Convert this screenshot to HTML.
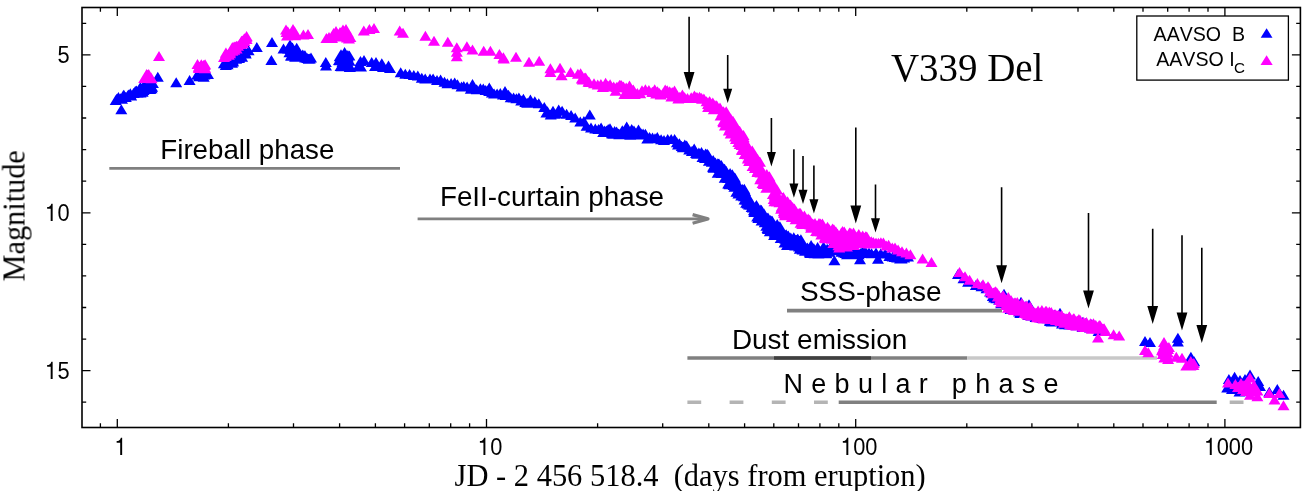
<!DOCTYPE html>
<html><head><meta charset="utf-8"><title>V339 Del</title>
<style>
html,body{margin:0;padding:0;background:#fff;}
body{width:1310px;height:491px;overflow:hidden;}
svg{display:block;}
text{font-kerning:none;}
.ga{opacity:0.999;}
.s{font-family:"Liberation Sans",sans-serif;fill:#000;}
.r{font-family:"Liberation Serif",serif;fill:#000;}
</style></head><body>
<svg width="1310" height="491" viewBox="0 0 1310 491">
<rect width="1310" height="491" fill="#fff"/>
<g fill="none">
<path d="M109.3 168.3H400" stroke="#808080" stroke-width="2.8"/>
<path d="M417.6 218.9H707" stroke="#808080" stroke-width="2.8"/><path d="M692.6 214.6L708 218.9L692.6 223.2" stroke="#808080" stroke-width="3.2" stroke-linejoin="round"/>
<path d="M787 310.6H1002" stroke="#808080" stroke-width="3.6"/>
<path d="M687.4 358H967.2" stroke="#808080" stroke-width="3.6"/>
<path d="M774 358H871" stroke="#404040" stroke-width="3.6"/>
<path d="M967.2 358H1157" stroke="#c8c8c8" stroke-width="3.6"/>
<path d="M687.4 402.3h13.8m28.4 0h13.8m28.4 0h13.8m28.4 0h13.8M1229.7 402.3h13.8" stroke="#b4b4b4" stroke-width="3.4"/>
<path d="M838.7 402.3H1216.7" stroke="#808080" stroke-width="3.6"/>
</g>
<path d="M115.7 95.0l6.0 10.0h-12.0zM116.7 93.7l6.0 10.0h-12.0zM117.6 93.6l6.0 10.0h-12.0zM118.4 92.0l6.0 10.0h-12.0zM120.5 93.2l6.0 10.0h-12.0zM122.0 93.7l6.0 10.0h-12.0zM123.0 90.7l6.0 10.0h-12.0zM123.2 90.2l6.0 10.0h-12.0zM123.9 89.8l6.0 10.0h-12.0zM125.8 92.0l6.0 10.0h-12.0zM127.6 90.5l6.0 10.0h-12.0zM128.4 89.4l6.0 10.0h-12.0zM131.2 90.6l6.0 10.0h-12.0zM130.3 88.3l6.0 10.0h-12.0zM130.4 89.8l6.0 10.0h-12.0zM133.5 88.0l6.0 10.0h-12.0zM135.2 86.1l6.0 10.0h-12.0zM135.7 87.5l6.0 10.0h-12.0zM136.4 85.4l6.0 10.0h-12.0zM138.0 85.7l6.0 10.0h-12.0zM137.5 87.7l6.0 10.0h-12.0zM138.8 84.6l6.0 10.0h-12.0zM136.8 87.4l6.0 10.0h-12.0zM139.1 84.6l6.0 10.0h-12.0zM140.4 82.1l6.0 10.0h-12.0zM139.6 83.7l6.0 10.0h-12.0zM140.5 87.5l6.0 10.0h-12.0zM141.8 86.5l6.0 10.0h-12.0zM142.4 86.1l6.0 10.0h-12.0zM142.6 86.7l6.0 10.0h-12.0zM143.5 85.0l6.0 10.0h-12.0zM144.4 79.6l6.0 10.0h-12.0zM145.9 80.6l6.0 10.0h-12.0zM146.4 81.7l6.0 10.0h-12.0zM147.7 82.1l6.0 10.0h-12.0zM147.5 78.8l6.0 10.0h-12.0zM150.2 79.2l6.0 10.0h-12.0zM150.1 84.0l6.0 10.0h-12.0zM151.5 83.3l6.0 10.0h-12.0zM151.0 77.2l6.0 10.0h-12.0zM152.9 78.1l6.0 10.0h-12.0zM152.1 81.8l6.0 10.0h-12.0zM121.3 104.2l6.0 10.0h-12.0zM157.8 71.7l6.0 10.0h-12.0zM176.2 77.3l6.0 10.0h-12.0zM189.6 75.1l6.0 10.0h-12.0zM204.2 69.5l6.0 10.0h-12.0zM199.1 71.2l6.0 10.0h-12.0zM197.8 69.2l6.0 10.0h-12.0zM203.7 71.7l6.0 10.0h-12.0zM204.4 69.5l6.0 10.0h-12.0zM208.0 69.1l6.0 10.0h-12.0zM197.2 69.4l6.0 10.0h-12.0zM202.3 68.6l6.0 10.0h-12.0zM199.1 69.8l6.0 10.0h-12.0zM223.9 58.3l6.0 10.0h-12.0zM227.6 59.3l6.0 10.0h-12.0zM227.2 56.0l6.0 10.0h-12.0zM225.8 60.1l6.0 10.0h-12.0zM230.1 54.3l6.0 10.0h-12.0zM229.5 57.8l6.0 10.0h-12.0zM231.6 53.8l6.0 10.0h-12.0zM232.0 57.8l6.0 10.0h-12.0zM232.9 56.6l6.0 10.0h-12.0zM232.9 55.4l6.0 10.0h-12.0zM235.3 53.4l6.0 10.0h-12.0zM236.1 53.8l6.0 10.0h-12.0zM235.4 53.4l6.0 10.0h-12.0zM235.4 53.2l6.0 10.0h-12.0zM239.0 53.0l6.0 10.0h-12.0zM238.9 51.9l6.0 10.0h-12.0zM240.1 48.6l6.0 10.0h-12.0zM238.9 50.8l6.0 10.0h-12.0zM240.1 51.0l6.0 10.0h-12.0zM242.1 51.7l6.0 10.0h-12.0zM241.0 47.8l6.0 10.0h-12.0zM242.8 46.3l6.0 10.0h-12.0zM245.3 47.2l6.0 10.0h-12.0zM245.1 47.9l6.0 10.0h-12.0zM245.7 48.5l6.0 10.0h-12.0zM248.6 45.2l6.0 10.0h-12.0zM256.8 42.1l6.0 10.0h-12.0zM272.0 37.0l6.0 10.0h-12.0zM271.4 54.9l6.0 10.0h-12.0zM293.8 45.5l6.0 10.0h-12.0zM289.4 47.3l6.0 10.0h-12.0zM296.4 50.8l6.0 10.0h-12.0zM295.1 51.8l6.0 10.0h-12.0zM290.8 44.0l6.0 10.0h-12.0zM292.5 45.1l6.0 10.0h-12.0zM290.1 46.5l6.0 10.0h-12.0zM294.3 47.3l6.0 10.0h-12.0zM291.2 50.7l6.0 10.0h-12.0zM297.8 46.9l6.0 10.0h-12.0zM288.7 42.6l6.0 10.0h-12.0zM296.7 42.7l6.0 10.0h-12.0zM295.1 48.0l6.0 10.0h-12.0zM291.1 50.2l6.0 10.0h-12.0zM288.2 43.7l6.0 10.0h-12.0zM292.5 42.6l6.0 10.0h-12.0zM298.5 48.8l6.0 10.0h-12.0zM299.5 50.0l6.0 10.0h-12.0zM301.5 51.7l6.0 10.0h-12.0zM303.1 49.9l6.0 10.0h-12.0zM302.7 49.4l6.0 10.0h-12.0zM305.0 50.3l6.0 10.0h-12.0zM305.2 52.4l6.0 10.0h-12.0zM307.3 53.0l6.0 10.0h-12.0zM308.7 53.8l6.0 10.0h-12.0zM309.8 53.4l6.0 10.0h-12.0zM290.0 39.5l6.0 10.0h-12.0zM304.5 50.5l6.0 10.0h-12.0zM311.0 52.5l6.0 10.0h-12.0zM325.8 57.1l6.0 10.0h-12.0zM283.5 43.5l6.0 10.0h-12.0zM326.0 60.5l6.0 10.0h-12.0zM361.0 61.5l6.0 10.0h-12.0zM375.0 61.0l6.0 10.0h-12.0zM383.0 62.0l6.0 10.0h-12.0zM390.0 63.0l6.0 10.0h-12.0zM339.6 55.2l6.0 10.0h-12.0zM345.5 61.2l6.0 10.0h-12.0zM342.5 56.7l6.0 10.0h-12.0zM348.6 59.7l6.0 10.0h-12.0zM349.3 55.4l6.0 10.0h-12.0zM345.8 52.0l6.0 10.0h-12.0zM346.7 60.0l6.0 10.0h-12.0zM345.7 58.7l6.0 10.0h-12.0zM340.6 61.0l6.0 10.0h-12.0zM349.8 62.0l6.0 10.0h-12.0zM344.4 59.6l6.0 10.0h-12.0zM341.8 61.2l6.0 10.0h-12.0zM348.3 53.9l6.0 10.0h-12.0zM339.0 55.1l6.0 10.0h-12.0zM344.6 59.3l6.0 10.0h-12.0zM343.8 49.7l6.0 10.0h-12.0zM347.7 50.2l6.0 10.0h-12.0zM347.6 51.6l6.0 10.0h-12.0zM342.0 59.6l6.0 10.0h-12.0zM339.7 51.3l6.0 10.0h-12.0zM344.2 58.7l6.0 10.0h-12.0zM348.1 58.3l6.0 10.0h-12.0zM349.3 55.7l6.0 10.0h-12.0zM349.4 50.5l6.0 10.0h-12.0zM344.6 46.9l6.0 10.0h-12.0zM341.0 49.3l6.0 10.0h-12.0zM348.0 50.3l6.0 10.0h-12.0zM360.5 56.0l6.0 10.0h-12.0zM358.0 61.5l6.0 10.0h-12.0zM364.0 55.0l6.0 10.0h-12.0zM371.7 57.1l6.0 10.0h-12.0zM381.8 58.3l6.0 10.0h-12.0zM388.5 60.5l6.0 10.0h-12.0zM376.0 57.0l6.0 10.0h-12.0zM472.5 79.1l6.0 10.0h-12.0zM489.3 82.5l6.0 10.0h-12.0zM505.0 85.9l6.0 10.0h-12.0zM400.7 67.3l6.0 10.0h-12.0zM405.3 68.7l6.0 10.0h-12.0zM409.6 69.1l6.0 10.0h-12.0zM413.8 70.1l6.0 10.0h-12.0zM417.8 70.6l6.0 10.0h-12.0zM421.8 72.7l6.0 10.0h-12.0zM425.2 73.5l6.0 10.0h-12.0zM430.0 73.5l6.0 10.0h-12.0zM433.1 73.4l6.0 10.0h-12.0zM437.0 75.1l6.0 10.0h-12.0zM440.6 74.5l6.0 10.0h-12.0zM444.5 76.7l6.0 10.0h-12.0zM447.4 78.3l6.0 10.0h-12.0zM451.1 78.1l6.0 10.0h-12.0zM454.7 77.6l6.0 10.0h-12.0zM457.5 79.3l6.0 10.0h-12.0zM461.5 81.6l6.0 10.0h-12.0zM463.8 80.9l6.0 10.0h-12.0zM467.1 81.6l6.0 10.0h-12.0zM470.8 83.7l6.0 10.0h-12.0zM473.5 82.5l6.0 10.0h-12.0zM476.7 84.2l6.0 10.0h-12.0zM480.4 83.3l6.0 10.0h-12.0zM483.3 83.6l6.0 10.0h-12.0zM485.7 84.9l6.0 10.0h-12.0zM489.2 85.9l6.0 10.0h-12.0zM491.9 87.6l6.0 10.0h-12.0zM494.1 88.5l6.0 10.0h-12.0zM497.1 88.4l6.0 10.0h-12.0zM500.3 88.0l6.0 10.0h-12.0zM503.0 89.5l6.0 10.0h-12.0zM505.9 90.1l6.0 10.0h-12.0zM508.5 89.7l6.0 10.0h-12.0zM510.7 92.2l6.0 10.0h-12.0zM513.6 92.4l6.0 10.0h-12.0zM516.4 93.3l6.0 10.0h-12.0zM518.9 92.4l6.0 10.0h-12.0zM521.2 95.4l6.0 10.0h-12.0zM523.4 93.8l6.0 10.0h-12.0zM525.3 97.0l6.0 10.0h-12.0zM527.2 97.8l6.0 10.0h-12.0zM530.4 94.6l6.0 10.0h-12.0zM532.2 97.8l6.0 10.0h-12.0zM534.8 96.2l6.0 10.0h-12.0zM538.8 98.2l6.0 10.0h-12.0zM544.3 101.9l6.0 10.0h-12.0zM546.4 107.4l6.0 10.0h-12.0zM547.5 106.2l6.0 10.0h-12.0zM550.7 109.6l6.0 10.0h-12.0zM553.0 105.8l6.0 10.0h-12.0zM554.5 108.8l6.0 10.0h-12.0zM556.5 108.3l6.0 10.0h-12.0zM558.7 104.6l6.0 10.0h-12.0zM562.1 105.7l6.0 10.0h-12.0zM566.6 108.7l6.0 10.0h-12.0zM571.1 110.1l6.0 10.0h-12.0zM575.2 112.4l6.0 10.0h-12.0zM580.3 116.5l6.0 10.0h-12.0zM583.9 116.0l6.0 10.0h-12.0zM586.6 120.8l6.0 10.0h-12.0zM591.0 122.6l6.0 10.0h-12.0zM595.3 123.4l6.0 10.0h-12.0zM598.5 123.9l6.0 10.0h-12.0zM601.1 122.6l6.0 10.0h-12.0zM603.2 126.9l6.0 10.0h-12.0zM604.7 125.4l6.0 10.0h-12.0zM606.7 125.4l6.0 10.0h-12.0zM608.2 124.1l6.0 10.0h-12.0zM610.0 123.2l6.0 10.0h-12.0zM611.9 128.2l6.0 10.0h-12.0zM613.2 128.7l6.0 10.0h-12.0zM614.6 125.9l6.0 10.0h-12.0zM616.6 126.5l6.0 10.0h-12.0zM618.5 128.5l6.0 10.0h-12.0zM619.3 129.2l6.0 10.0h-12.0zM620.7 128.3l6.0 10.0h-12.0zM622.3 125.2l6.0 10.0h-12.0zM623.4 129.1l6.0 10.0h-12.0zM624.7 128.1l6.0 10.0h-12.0zM625.8 124.7l6.0 10.0h-12.0zM626.7 121.5l6.0 10.0h-12.0zM627.3 125.1l6.0 10.0h-12.0zM628.0 123.9l6.0 10.0h-12.0zM629.6 126.4l6.0 10.0h-12.0zM630.2 129.8l6.0 10.0h-12.0zM631.7 124.1l6.0 10.0h-12.0zM632.7 126.6l6.0 10.0h-12.0zM634.0 125.5l6.0 10.0h-12.0zM635.5 127.8l6.0 10.0h-12.0zM636.7 128.9l6.0 10.0h-12.0zM638.5 124.6l6.0 10.0h-12.0zM639.6 129.5l6.0 10.0h-12.0zM641.3 128.6l6.0 10.0h-12.0zM643.1 128.5l6.0 10.0h-12.0zM645.4 128.7l6.0 10.0h-12.0zM647.3 133.4l6.0 10.0h-12.0zM649.6 131.9l6.0 10.0h-12.0zM652.5 132.6l6.0 10.0h-12.0zM655.0 133.2l6.0 10.0h-12.0zM657.3 131.9l6.0 10.0h-12.0zM661.1 134.3l6.0 10.0h-12.0zM664.0 134.9l6.0 10.0h-12.0zM667.7 133.9l6.0 10.0h-12.0zM671.2 134.1l6.0 10.0h-12.0zM674.6 134.0l6.0 10.0h-12.0zM676.9 137.2l6.0 10.0h-12.0zM678.0 139.6l6.0 10.0h-12.0zM679.4 138.3l6.0 10.0h-12.0zM681.7 140.9l6.0 10.0h-12.0zM682.8 142.3l6.0 10.0h-12.0zM684.8 139.4l6.0 10.0h-12.0zM686.7 140.6l6.0 10.0h-12.0zM689.2 144.6l6.0 10.0h-12.0zM589.8 109.5l6.0 10.0h-12.0zM691.9 146.1l6.0 10.0h-12.0zM694.2 143.6l6.0 10.0h-12.0zM696.0 147.9l6.0 10.0h-12.0zM697.1 148.7l6.0 10.0h-12.0zM698.9 147.4l6.0 10.0h-12.0zM701.5 147.1l6.0 10.0h-12.0zM702.5 151.9l6.0 10.0h-12.0zM703.7 149.9l6.0 10.0h-12.0zM705.0 153.0l6.0 10.0h-12.0zM705.6 148.5l6.0 10.0h-12.0zM706.6 151.7l6.0 10.0h-12.0zM707.2 148.8l6.0 10.0h-12.0zM708.5 150.2l6.0 10.0h-12.0zM708.9 155.7l6.0 10.0h-12.0zM710.0 152.8l6.0 10.0h-12.0zM711.1 155.1l6.0 10.0h-12.0zM711.8 156.7l6.0 10.0h-12.0zM713.0 161.8l6.0 10.0h-12.0zM713.2 155.1l6.0 10.0h-12.0zM713.6 162.7l6.0 10.0h-12.0zM714.8 160.4l6.0 10.0h-12.0zM715.4 157.5l6.0 10.0h-12.0zM716.2 161.1l6.0 10.0h-12.0zM717.1 162.8l6.0 10.0h-12.0zM717.8 158.3l6.0 10.0h-12.0zM717.7 167.7l6.0 10.0h-12.0zM719.4 167.5l6.0 10.0h-12.0zM719.0 158.4l6.0 10.0h-12.0zM719.8 163.1l6.0 10.0h-12.0zM721.1 160.1l6.0 10.0h-12.0zM721.5 160.2l6.0 10.0h-12.0zM721.6 168.0l6.0 10.0h-12.0zM722.6 167.9l6.0 10.0h-12.0zM723.4 167.0l6.0 10.0h-12.0zM723.7 165.8l6.0 10.0h-12.0zM724.7 172.7l6.0 10.0h-12.0zM724.6 163.7l6.0 10.0h-12.0zM725.8 170.9l6.0 10.0h-12.0zM726.3 165.9l6.0 10.0h-12.0zM726.9 167.4l6.0 10.0h-12.0zM727.8 169.4l6.0 10.0h-12.0zM728.2 178.6l6.0 10.0h-12.0zM728.3 172.9l6.0 10.0h-12.0zM729.2 178.7l6.0 10.0h-12.0zM729.4 171.3l6.0 10.0h-12.0zM729.6 179.2l6.0 10.0h-12.0zM730.1 168.0l6.0 10.0h-12.0zM731.1 174.4l6.0 10.0h-12.0zM731.7 172.1l6.0 10.0h-12.0zM732.3 169.2l6.0 10.0h-12.0zM732.2 178.6l6.0 10.0h-12.0zM732.6 173.6l6.0 10.0h-12.0zM733.7 180.1l6.0 10.0h-12.0zM733.8 172.0l6.0 10.0h-12.0zM734.4 181.7l6.0 10.0h-12.0zM734.9 172.4l6.0 10.0h-12.0zM735.7 180.2l6.0 10.0h-12.0zM736.4 186.8l6.0 10.0h-12.0zM736.9 179.3l6.0 10.0h-12.0zM737.3 177.8l6.0 10.0h-12.0zM737.3 179.9l6.0 10.0h-12.0zM738.4 188.4l6.0 10.0h-12.0zM738.2 180.7l6.0 10.0h-12.0zM738.9 181.3l6.0 10.0h-12.0zM739.4 182.4l6.0 10.0h-12.0zM739.7 185.7l6.0 10.0h-12.0zM740.8 186.0l6.0 10.0h-12.0zM741.3 186.9l6.0 10.0h-12.0zM741.2 190.4l6.0 10.0h-12.0zM742.4 184.1l6.0 10.0h-12.0zM742.0 188.2l6.0 10.0h-12.0zM743.0 189.5l6.0 10.0h-12.0zM744.0 191.3l6.0 10.0h-12.0zM744.3 183.8l6.0 10.0h-12.0zM744.5 194.5l6.0 10.0h-12.0zM745.1 186.1l6.0 10.0h-12.0zM746.2 197.8l6.0 10.0h-12.0zM746.1 194.8l6.0 10.0h-12.0zM746.6 196.9l6.0 10.0h-12.0zM747.6 191.1l6.0 10.0h-12.0zM747.7 198.4l6.0 10.0h-12.0zM749.0 199.6l6.0 10.0h-12.0zM749.4 194.9l6.0 10.0h-12.0zM750.5 199.7l6.0 10.0h-12.0zM750.5 198.7l6.0 10.0h-12.0zM751.7 201.9l6.0 10.0h-12.0zM752.4 198.9l6.0 10.0h-12.0zM752.8 202.5l6.0 10.0h-12.0zM753.9 205.3l6.0 10.0h-12.0zM754.3 206.9l6.0 10.0h-12.0zM755.0 204.3l6.0 10.0h-12.0zM755.0 205.7l6.0 10.0h-12.0zM756.3 203.2l6.0 10.0h-12.0zM756.4 200.1l6.0 10.0h-12.0zM757.2 211.5l6.0 10.0h-12.0zM757.4 201.4l6.0 10.0h-12.0zM757.7 205.2l6.0 10.0h-12.0zM758.3 213.0l6.0 10.0h-12.0zM759.1 205.2l6.0 10.0h-12.0zM759.6 210.3l6.0 10.0h-12.0zM760.8 204.4l6.0 10.0h-12.0zM760.6 208.8l6.0 10.0h-12.0zM761.6 215.5l6.0 10.0h-12.0zM761.5 204.9l6.0 10.0h-12.0zM762.2 206.9l6.0 10.0h-12.0zM762.7 214.5l6.0 10.0h-12.0zM764.1 208.5l6.0 10.0h-12.0zM764.2 209.8l6.0 10.0h-12.0zM764.7 217.2l6.0 10.0h-12.0zM765.3 214.7l6.0 10.0h-12.0zM766.3 214.2l6.0 10.0h-12.0zM766.3 220.8l6.0 10.0h-12.0zM767.4 213.2l6.0 10.0h-12.0zM767.5 223.0l6.0 10.0h-12.0zM768.0 212.4l6.0 10.0h-12.0zM768.0 223.9l6.0 10.0h-12.0zM769.3 215.9l6.0 10.0h-12.0zM769.5 218.4l6.0 10.0h-12.0zM769.8 226.3l6.0 10.0h-12.0zM770.7 215.1l6.0 10.0h-12.0zM770.5 219.3l6.0 10.0h-12.0zM771.4 224.9l6.0 10.0h-12.0zM772.2 222.4l6.0 10.0h-12.0zM772.2 215.7l6.0 10.0h-12.0zM772.8 217.7l6.0 10.0h-12.0zM773.9 222.2l6.0 10.0h-12.0zM774.1 230.0l6.0 10.0h-12.0zM774.3 223.3l6.0 10.0h-12.0zM774.7 227.4l6.0 10.0h-12.0zM775.0 228.5l6.0 10.0h-12.0zM776.3 228.9l6.0 10.0h-12.0zM776.1 221.0l6.0 10.0h-12.0zM777.2 218.9l6.0 10.0h-12.0zM777.5 224.9l6.0 10.0h-12.0zM778.5 227.0l6.0 10.0h-12.0zM778.9 223.3l6.0 10.0h-12.0zM779.3 225.4l6.0 10.0h-12.0zM779.9 221.2l6.0 10.0h-12.0zM780.3 223.3l6.0 10.0h-12.0zM780.5 228.3l6.0 10.0h-12.0zM780.7 233.0l6.0 10.0h-12.0zM781.3 226.1l6.0 10.0h-12.0zM781.6 226.5l6.0 10.0h-12.0zM783.0 233.0l6.0 10.0h-12.0zM783.4 233.0l6.0 10.0h-12.0zM783.6 229.5l6.0 10.0h-12.0zM784.5 237.5l6.0 10.0h-12.0zM785.3 233.8l6.0 10.0h-12.0zM785.0 230.5l6.0 10.0h-12.0zM786.2 229.2l6.0 10.0h-12.0zM787.1 232.9l6.0 10.0h-12.0zM787.0 240.1l6.0 10.0h-12.0zM788.3 230.6l6.0 10.0h-12.0zM788.6 232.1l6.0 10.0h-12.0zM789.4 236.1l6.0 10.0h-12.0zM789.8 233.8l6.0 10.0h-12.0zM790.4 238.1l6.0 10.0h-12.0zM790.8 232.5l6.0 10.0h-12.0zM791.7 234.3l6.0 10.0h-12.0zM792.9 237.6l6.0 10.0h-12.0zM793.2 235.0l6.0 10.0h-12.0zM793.8 232.2l6.0 10.0h-12.0zM793.6 232.4l6.0 10.0h-12.0zM795.2 240.5l6.0 10.0h-12.0zM795.2 236.9l6.0 10.0h-12.0zM796.3 239.5l6.0 10.0h-12.0zM796.1 235.1l6.0 10.0h-12.0zM797.2 234.2l6.0 10.0h-12.0zM797.9 233.8l6.0 10.0h-12.0zM798.9 238.4l6.0 10.0h-12.0zM799.0 241.4l6.0 10.0h-12.0zM799.8 243.8l6.0 10.0h-12.0zM800.4 238.0l6.0 10.0h-12.0zM800.9 234.2l6.0 10.0h-12.0zM801.4 243.1l6.0 10.0h-12.0zM802.5 244.5l6.0 10.0h-12.0zM803.2 242.6l6.0 10.0h-12.0zM803.0 239.3l6.0 10.0h-12.0zM803.8 243.6l6.0 10.0h-12.0zM804.1 240.3l6.0 10.0h-12.0zM805.0 245.8l6.0 10.0h-12.0zM806.3 243.7l6.0 10.0h-12.0zM806.2 245.7l6.0 10.0h-12.0zM807.4 243.1l6.0 10.0h-12.0zM807.4 242.6l6.0 10.0h-12.0zM808.1 245.3l6.0 10.0h-12.0zM809.5 243.1l6.0 10.0h-12.0zM809.7 246.8l6.0 10.0h-12.0zM810.2 248.0l6.0 10.0h-12.0zM811.1 240.1l6.0 10.0h-12.0zM811.6 240.9l6.0 10.0h-12.0zM812.6 245.5l6.0 10.0h-12.0zM813.3 247.9l6.0 10.0h-12.0zM813.9 243.3l6.0 10.0h-12.0zM814.6 248.3l6.0 10.0h-12.0zM815.1 247.7l6.0 10.0h-12.0zM816.5 244.5l6.0 10.0h-12.0zM817.6 241.9l6.0 10.0h-12.0zM818.4 248.5l6.0 10.0h-12.0zM819.3 245.1l6.0 10.0h-12.0zM819.6 247.1l6.0 10.0h-12.0zM820.8 247.7l6.0 10.0h-12.0zM821.7 245.1l6.0 10.0h-12.0zM823.3 242.1l6.0 10.0h-12.0zM823.5 241.4l6.0 10.0h-12.0zM824.0 242.3l6.0 10.0h-12.0zM826.5 248.2l6.0 10.0h-12.0zM827.2 243.7l6.0 10.0h-12.0zM828.2 246.8l6.0 10.0h-12.0zM828.9 245.9l6.0 10.0h-12.0zM830.3 242.2l6.0 10.0h-12.0zM831.2 245.3l6.0 10.0h-12.0zM832.1 244.9l6.0 10.0h-12.0zM834.1 243.9l6.0 10.0h-12.0zM835.5 244.6l6.0 10.0h-12.0zM837.1 245.1l6.0 10.0h-12.0zM838.1 243.5l6.0 10.0h-12.0zM839.7 244.3l6.0 10.0h-12.0zM841.5 246.8l6.0 10.0h-12.0zM842.5 245.9l6.0 10.0h-12.0zM844.1 247.5l6.0 10.0h-12.0zM845.8 247.9l6.0 10.0h-12.0zM847.0 249.2l6.0 10.0h-12.0zM848.8 248.6l6.0 10.0h-12.0zM849.9 246.6l6.0 10.0h-12.0zM851.6 249.0l6.0 10.0h-12.0zM853.5 247.3l6.0 10.0h-12.0zM854.9 249.2l6.0 10.0h-12.0zM856.3 245.3l6.0 10.0h-12.0zM858.7 249.2l6.0 10.0h-12.0zM860.2 247.9l6.0 10.0h-12.0zM862.3 246.8l6.0 10.0h-12.0zM864.1 246.1l6.0 10.0h-12.0zM866.1 247.5l6.0 10.0h-12.0zM869.0 247.4l6.0 10.0h-12.0zM871.6 248.3l6.0 10.0h-12.0zM876.0 247.5l6.0 10.0h-12.0zM880.8 248.2l6.0 10.0h-12.0zM885.2 248.4l6.0 10.0h-12.0zM889.4 251.0l6.0 10.0h-12.0zM892.7 251.6l6.0 10.0h-12.0zM894.9 252.0l6.0 10.0h-12.0zM897.2 252.4l6.0 10.0h-12.0zM900.1 253.5l6.0 10.0h-12.0zM901.6 253.4l6.0 10.0h-12.0zM904.1 252.6l6.0 10.0h-12.0zM908.0 251.4l6.0 10.0h-12.0zM834.4 255.3l6.0 10.0h-12.0zM860.0 254.3l6.0 10.0h-12.0zM878.0 253.8l6.0 10.0h-12.0zM958.0 268.9l6.0 10.0h-12.0zM963.5 273.3l6.0 10.0h-12.0zM968.1 276.8l6.0 10.0h-12.0zM975.9 280.1l6.0 10.0h-12.0zM981.5 281.3l6.0 10.0h-12.0zM986.5 283.3l6.0 10.0h-12.0zM990.1 286.4l6.0 10.0h-12.0zM991.5 287.6l6.0 10.0h-12.0zM992.8 291.1l6.0 10.0h-12.0zM994.2 292.4l6.0 10.0h-12.0zM996.4 293.3l6.0 10.0h-12.0zM996.7 291.5l6.0 10.0h-12.0zM999.0 290.9l6.0 10.0h-12.0zM999.2 294.8l6.0 10.0h-12.0zM1000.2 294.5l6.0 10.0h-12.0zM1001.2 298.2l6.0 10.0h-12.0zM1002.3 291.6l6.0 10.0h-12.0zM1003.7 294.3l6.0 10.0h-12.0zM1004.6 296.2l6.0 10.0h-12.0zM1005.4 296.6l6.0 10.0h-12.0zM1005.9 292.3l6.0 10.0h-12.0zM1007.0 295.3l6.0 10.0h-12.0zM1008.1 299.3l6.0 10.0h-12.0zM1008.5 294.2l6.0 10.0h-12.0zM1009.5 298.6l6.0 10.0h-12.0zM1010.6 304.0l6.0 10.0h-12.0zM1010.8 298.9l6.0 10.0h-12.0zM1011.6 303.1l6.0 10.0h-12.0zM1012.7 304.0l6.0 10.0h-12.0zM1013.8 298.2l6.0 10.0h-12.0zM1014.9 301.3l6.0 10.0h-12.0zM1014.9 302.0l6.0 10.0h-12.0zM1016.4 301.7l6.0 10.0h-12.0zM1017.0 300.0l6.0 10.0h-12.0zM1017.8 302.4l6.0 10.0h-12.0zM1018.3 299.6l6.0 10.0h-12.0zM1019.2 306.4l6.0 10.0h-12.0zM1020.3 308.0l6.0 10.0h-12.0zM1021.4 305.4l6.0 10.0h-12.0zM1022.3 306.0l6.0 10.0h-12.0zM1022.8 307.1l6.0 10.0h-12.0zM1023.2 307.5l6.0 10.0h-12.0zM1024.3 302.5l6.0 10.0h-12.0zM1025.9 300.9l6.0 10.0h-12.0zM1026.0 304.0l6.0 10.0h-12.0zM1027.3 306.8l6.0 10.0h-12.0zM1028.4 310.1l6.0 10.0h-12.0zM1029.1 302.7l6.0 10.0h-12.0zM1030.2 303.5l6.0 10.0h-12.0zM1031.5 310.5l6.0 10.0h-12.0zM1031.8 305.0l6.0 10.0h-12.0zM1033.2 310.2l6.0 10.0h-12.0zM1034.5 309.4l6.0 10.0h-12.0zM1034.6 310.6l6.0 10.0h-12.0zM1035.6 312.0l6.0 10.0h-12.0zM1037.3 311.7l6.0 10.0h-12.0zM1038.4 310.3l6.0 10.0h-12.0zM1039.4 311.0l6.0 10.0h-12.0zM1040.0 309.2l6.0 10.0h-12.0zM1041.4 306.7l6.0 10.0h-12.0zM1042.2 313.0l6.0 10.0h-12.0zM1043.2 312.1l6.0 10.0h-12.0zM1044.8 312.7l6.0 10.0h-12.0zM1045.5 309.9l6.0 10.0h-12.0zM1046.3 309.0l6.0 10.0h-12.0zM1047.6 313.3l6.0 10.0h-12.0zM1048.9 310.6l6.0 10.0h-12.0zM1049.9 315.5l6.0 10.0h-12.0zM1050.3 316.1l6.0 10.0h-12.0zM1051.6 316.4l6.0 10.0h-12.0zM1052.8 311.5l6.0 10.0h-12.0zM1053.3 313.2l6.0 10.0h-12.0zM1054.5 309.5l6.0 10.0h-12.0zM1055.9 313.8l6.0 10.0h-12.0zM1057.0 315.8l6.0 10.0h-12.0zM1057.7 311.5l6.0 10.0h-12.0zM1059.1 312.1l6.0 10.0h-12.0zM1059.8 310.9l6.0 10.0h-12.0zM1060.6 313.5l6.0 10.0h-12.0zM1062.0 318.6l6.0 10.0h-12.0zM1063.1 314.5l6.0 10.0h-12.0zM1063.9 313.3l6.0 10.0h-12.0zM1065.0 319.3l6.0 10.0h-12.0zM1065.6 315.3l6.0 10.0h-12.0zM1067.2 318.1l6.0 10.0h-12.0zM1068.1 317.4l6.0 10.0h-12.0zM1069.4 319.6l6.0 10.0h-12.0zM1070.3 317.2l6.0 10.0h-12.0zM1072.0 317.3l6.0 10.0h-12.0zM1072.2 319.3l6.0 10.0h-12.0zM1073.1 315.0l6.0 10.0h-12.0zM1075.1 316.3l6.0 10.0h-12.0zM1076.2 319.8l6.0 10.0h-12.0zM1076.8 320.3l6.0 10.0h-12.0zM1078.6 320.1l6.0 10.0h-12.0zM1079.5 318.5l6.0 10.0h-12.0zM1080.1 319.0l6.0 10.0h-12.0zM1082.5 322.1l6.0 10.0h-12.0zM1082.6 316.9l6.0 10.0h-12.0zM1084.3 321.4l6.0 10.0h-12.0zM1085.4 318.0l6.0 10.0h-12.0zM1086.9 321.2l6.0 10.0h-12.0zM1088.7 320.5l6.0 10.0h-12.0zM1090.1 322.6l6.0 10.0h-12.0zM1091.1 319.1l6.0 10.0h-12.0zM1092.7 320.0l6.0 10.0h-12.0zM1093.6 322.4l6.0 10.0h-12.0zM1095.0 320.6l6.0 10.0h-12.0zM1097.4 323.2l6.0 10.0h-12.0zM1098.6 326.0l6.0 10.0h-12.0zM1100.9 324.1l6.0 10.0h-12.0zM1102.6 324.0l6.0 10.0h-12.0zM1004.0 288.8l6.0 10.0h-12.0zM1021.0 296.8l6.0 10.0h-12.0zM1029.0 299.3l6.0 10.0h-12.0zM1060.0 307.8l6.0 10.0h-12.0zM1145.0 336.0l6.0 10.0h-12.0zM1150.0 337.1l6.0 10.0h-12.0zM1177.9 332.7l6.0 10.0h-12.0zM1177.9 336.5l6.0 10.0h-12.0zM1190.9 351.7l6.0 10.0h-12.0zM1194.2 356.2l6.0 10.0h-12.0zM1190.6 354.3l6.0 10.0h-12.0zM1228.9 374.1l6.0 10.0h-12.0zM1234.6 371.8l6.0 10.0h-12.0zM1240.0 375.1l6.0 10.0h-12.0zM1250.0 369.4l6.0 10.0h-12.0zM1258.2 375.9l6.0 10.0h-12.0zM1227.2 382.4l6.0 10.0h-12.0zM1232.0 384.1l6.0 10.0h-12.0zM1239.5 386.5l6.0 10.0h-12.0zM1260.0 381.1l6.0 10.0h-12.0zM1245.0 374.1l6.0 10.0h-12.0zM1236.0 380.1l6.0 10.0h-12.0zM1269.3 386.8l6.0 10.0h-12.0zM1277.3 384.1l6.0 10.0h-12.0zM1283.5 389.7l6.0 10.0h-12.0z" fill="#0000ff"/>
<path d="M146.0 70.2l6.0 10.0h-12.0zM146.6 69.1l6.0 10.0h-12.0zM151.2 72.5l6.0 10.0h-12.0zM147.2 70.4l6.0 10.0h-12.0zM148.7 69.0l6.0 10.0h-12.0zM144.2 72.9l6.0 10.0h-12.0zM146.5 71.1l6.0 10.0h-12.0zM151.5 73.2l6.0 10.0h-12.0zM147.8 69.8l6.0 10.0h-12.0zM159.0 50.9l6.0 10.0h-12.0zM199.7 62.9l6.0 10.0h-12.0zM205.1 59.3l6.0 10.0h-12.0zM204.5 60.1l6.0 10.0h-12.0zM201.3 59.2l6.0 10.0h-12.0zM204.9 63.3l6.0 10.0h-12.0zM198.8 61.5l6.0 10.0h-12.0zM198.7 62.7l6.0 10.0h-12.0zM197.5 58.9l6.0 10.0h-12.0zM203.5 59.9l6.0 10.0h-12.0zM205.1 62.7l6.0 10.0h-12.0zM224.0 52.0l6.0 10.0h-12.0zM225.9 47.5l6.0 10.0h-12.0zM225.7 51.1l6.0 10.0h-12.0zM226.1 47.7l6.0 10.0h-12.0zM229.1 47.5l6.0 10.0h-12.0zM230.1 48.2l6.0 10.0h-12.0zM228.8 49.8l6.0 10.0h-12.0zM229.9 47.1l6.0 10.0h-12.0zM232.4 45.7l6.0 10.0h-12.0zM232.1 42.4l6.0 10.0h-12.0zM232.3 42.9l6.0 10.0h-12.0zM232.6 42.3l6.0 10.0h-12.0zM233.9 41.7l6.0 10.0h-12.0zM234.3 44.8l6.0 10.0h-12.0zM235.0 41.3l6.0 10.0h-12.0zM236.6 43.6l6.0 10.0h-12.0zM236.6 40.8l6.0 10.0h-12.0zM238.0 40.7l6.0 10.0h-12.0zM239.4 39.0l6.0 10.0h-12.0zM240.7 38.3l6.0 10.0h-12.0zM240.0 39.1l6.0 10.0h-12.0zM241.5 35.7l6.0 10.0h-12.0zM243.0 38.2l6.0 10.0h-12.0zM242.4 35.5l6.0 10.0h-12.0zM243.8 35.2l6.0 10.0h-12.0zM244.4 36.0l6.0 10.0h-12.0zM246.5 31.7l6.0 10.0h-12.0zM244.3 33.2l6.0 10.0h-12.0zM246.6 31.0l6.0 10.0h-12.0zM246.6 33.9l6.0 10.0h-12.0zM292.3 28.6l6.0 10.0h-12.0zM294.7 26.5l6.0 10.0h-12.0zM287.6 27.0l6.0 10.0h-12.0zM286.5 27.0l6.0 10.0h-12.0zM292.8 28.5l6.0 10.0h-12.0zM288.9 29.0l6.0 10.0h-12.0zM287.0 30.6l6.0 10.0h-12.0zM287.9 26.6l6.0 10.0h-12.0zM287.8 29.7l6.0 10.0h-12.0zM295.1 30.3l6.0 10.0h-12.0zM286.0 24.5l6.0 10.0h-12.0zM293.0 24.0l6.0 10.0h-12.0zM308.0 29.0l6.0 10.0h-12.0zM303.4 29.5l6.0 10.0h-12.0zM326.4 33.0l6.0 10.0h-12.0zM333.6 28.0l6.0 10.0h-12.0zM337.0 30.5l6.0 10.0h-12.0zM340.0 27.0l6.0 10.0h-12.0zM343.0 24.5l6.0 10.0h-12.0zM346.0 24.0l6.0 10.0h-12.0zM348.0 27.5l6.0 10.0h-12.0zM350.4 32.0l6.0 10.0h-12.0zM344.0 30.5l6.0 10.0h-12.0zM340.0 31.5l6.0 10.0h-12.0zM336.0 26.0l6.0 10.0h-12.0zM347.0 32.5l6.0 10.0h-12.0zM329.0 32.0l6.0 10.0h-12.0zM332.0 33.0l6.0 10.0h-12.0zM349.0 33.5l6.0 10.0h-12.0zM363.8 25.6l6.0 10.0h-12.0zM369.4 24.0l6.0 10.0h-12.0zM374.0 22.9l6.0 10.0h-12.0zM399.7 25.6l6.0 10.0h-12.0zM403.0 27.8l6.0 10.0h-12.0zM425.4 30.7l6.0 10.0h-12.0zM434.0 35.7l6.0 10.0h-12.0zM447.8 36.8l6.0 10.0h-12.0zM456.8 42.3l6.0 10.0h-12.0zM456.8 46.8l6.0 10.0h-12.0zM456.8 51.3l6.0 10.0h-12.0zM466.9 41.3l6.0 10.0h-12.0zM472.5 44.6l6.0 10.0h-12.0zM483.7 45.7l6.0 10.0h-12.0zM490.4 45.7l6.0 10.0h-12.0zM499.4 49.1l6.0 10.0h-12.0zM503.8 53.6l6.0 10.0h-12.0zM503.4 52.3l6.0 10.0h-12.0zM516.0 51.8l6.0 10.0h-12.0zM529.0 56.8l6.0 10.0h-12.0zM539.2 55.7l6.0 10.0h-12.0zM550.4 63.3l6.0 10.0h-12.0zM550.4 66.9l6.0 10.0h-12.0zM560.0 62.8l6.0 10.0h-12.0zM561.6 70.3l6.0 10.0h-12.0zM570.6 66.9l6.0 10.0h-12.0zM594.0 78.3l6.0 10.0h-12.0zM577.9 68.8l6.0 10.0h-12.0zM580.6 68.3l6.0 10.0h-12.0zM581.8 73.5l6.0 10.0h-12.0zM582.1 73.0l6.0 10.0h-12.0zM582.9 74.4l6.0 10.0h-12.0zM584.6 72.7l6.0 10.0h-12.0zM585.7 72.6l6.0 10.0h-12.0zM589.2 77.0l6.0 10.0h-12.0zM588.5 76.4l6.0 10.0h-12.0zM597.7 79.6l6.0 10.0h-12.0zM600.9 79.1l6.0 10.0h-12.0zM602.8 82.1l6.0 10.0h-12.0zM605.6 77.7l6.0 10.0h-12.0zM607.9 80.5l6.0 10.0h-12.0zM610.1 79.2l6.0 10.0h-12.0zM613.7 81.4l6.0 10.0h-12.0zM615.6 85.8l6.0 10.0h-12.0zM616.5 82.1l6.0 10.0h-12.0zM617.8 82.0l6.0 10.0h-12.0zM619.3 80.3l6.0 10.0h-12.0zM619.8 80.0l6.0 10.0h-12.0zM621.0 79.9l6.0 10.0h-12.0zM621.7 80.5l6.0 10.0h-12.0zM623.5 81.5l6.0 10.0h-12.0zM624.4 88.9l6.0 10.0h-12.0zM625.7 87.6l6.0 10.0h-12.0zM626.2 82.5l6.0 10.0h-12.0zM627.1 85.9l6.0 10.0h-12.0zM628.9 81.4l6.0 10.0h-12.0zM629.5 80.5l6.0 10.0h-12.0zM630.8 83.4l6.0 10.0h-12.0zM632.4 86.9l6.0 10.0h-12.0zM633.3 84.6l6.0 10.0h-12.0zM634.7 89.1l6.0 10.0h-12.0zM637.4 87.9l6.0 10.0h-12.0zM640.2 88.2l6.0 10.0h-12.0zM642.0 85.3l6.0 10.0h-12.0zM645.4 84.3l6.0 10.0h-12.0zM648.9 85.0l6.0 10.0h-12.0zM652.3 86.7l6.0 10.0h-12.0zM653.1 87.0l6.0 10.0h-12.0zM654.7 84.2l6.0 10.0h-12.0zM656.2 88.5l6.0 10.0h-12.0zM657.5 86.3l6.0 10.0h-12.0zM659.4 88.1l6.0 10.0h-12.0zM660.6 89.4l6.0 10.0h-12.0zM662.8 88.2l6.0 10.0h-12.0zM665.2 84.5l6.0 10.0h-12.0zM667.2 85.3l6.0 10.0h-12.0zM669.7 86.3l6.0 10.0h-12.0zM671.4 91.6l6.0 10.0h-12.0zM672.2 86.9l6.0 10.0h-12.0zM673.8 86.7l6.0 10.0h-12.0zM674.5 85.4l6.0 10.0h-12.0zM676.6 90.3l6.0 10.0h-12.0zM678.3 93.5l6.0 10.0h-12.0zM679.8 91.7l6.0 10.0h-12.0zM682.4 89.6l6.0 10.0h-12.0zM684.7 92.2l6.0 10.0h-12.0zM687.5 93.1l6.0 10.0h-12.0zM691.2 92.3l6.0 10.0h-12.0zM693.1 92.5l6.0 10.0h-12.0zM694.4 90.4l6.0 10.0h-12.0zM695.9 92.3l6.0 10.0h-12.0zM697.0 92.0l6.0 10.0h-12.0zM697.7 92.9l6.0 10.0h-12.0zM699.5 91.8l6.0 10.0h-12.0zM701.2 92.8l6.0 10.0h-12.0zM702.1 93.8l6.0 10.0h-12.0zM703.9 93.6l6.0 10.0h-12.0zM706.6 96.2l6.0 10.0h-12.0zM708.1 102.0l6.0 10.0h-12.0zM708.0 99.0l6.0 10.0h-12.0zM709.4 96.2l6.0 10.0h-12.0zM709.9 96.4l6.0 10.0h-12.0zM711.0 101.4l6.0 10.0h-12.0zM712.0 99.5l6.0 10.0h-12.0zM712.8 97.5l6.0 10.0h-12.0zM713.8 104.2l6.0 10.0h-12.0zM715.1 100.2l6.0 10.0h-12.0zM716.7 100.3l6.0 10.0h-12.0zM718.0 103.1l6.0 10.0h-12.0zM720.0 102.4l6.0 10.0h-12.0zM720.6 110.5l6.0 10.0h-12.0zM721.8 110.6l6.0 10.0h-12.0zM722.1 108.3l6.0 10.0h-12.0zM722.4 107.0l6.0 10.0h-12.0zM723.3 116.1l6.0 10.0h-12.0zM723.4 117.2l6.0 10.0h-12.0zM723.5 106.3l6.0 10.0h-12.0zM724.5 109.4l6.0 10.0h-12.0zM724.9 120.5l6.0 10.0h-12.0zM725.1 108.6l6.0 10.0h-12.0zM725.7 117.1l6.0 10.0h-12.0zM726.2 106.2l6.0 10.0h-12.0zM727.0 113.4l6.0 10.0h-12.0zM727.2 115.7l6.0 10.0h-12.0zM728.2 117.2l6.0 10.0h-12.0zM728.1 117.5l6.0 10.0h-12.0zM728.8 125.5l6.0 10.0h-12.0zM728.8 114.7l6.0 10.0h-12.0zM729.9 114.8l6.0 10.0h-12.0zM730.2 122.7l6.0 10.0h-12.0zM730.7 128.4l6.0 10.0h-12.0zM730.8 113.4l6.0 10.0h-12.0zM731.1 120.4l6.0 10.0h-12.0zM731.6 118.8l6.0 10.0h-12.0zM731.8 126.7l6.0 10.0h-12.0zM732.5 117.8l6.0 10.0h-12.0zM732.2 119.5l6.0 10.0h-12.0zM732.7 123.7l6.0 10.0h-12.0zM733.1 116.0l6.0 10.0h-12.0zM733.6 117.4l6.0 10.0h-12.0zM734.7 118.4l6.0 10.0h-12.0zM735.0 131.5l6.0 10.0h-12.0zM735.0 120.0l6.0 10.0h-12.0zM735.9 134.1l6.0 10.0h-12.0zM735.6 123.2l6.0 10.0h-12.0zM736.5 134.1l6.0 10.0h-12.0zM736.9 133.3l6.0 10.0h-12.0zM736.8 133.3l6.0 10.0h-12.0zM737.3 126.8l6.0 10.0h-12.0zM738.3 137.1l6.0 10.0h-12.0zM738.8 132.6l6.0 10.0h-12.0zM738.9 135.9l6.0 10.0h-12.0zM739.6 139.0l6.0 10.0h-12.0zM739.8 125.9l6.0 10.0h-12.0zM739.9 136.7l6.0 10.0h-12.0zM740.2 128.6l6.0 10.0h-12.0zM740.5 136.7l6.0 10.0h-12.0zM741.9 144.4l6.0 10.0h-12.0zM741.6 140.0l6.0 10.0h-12.0zM741.9 139.0l6.0 10.0h-12.0zM742.4 145.1l6.0 10.0h-12.0zM743.5 130.1l6.0 10.0h-12.0zM743.7 132.2l6.0 10.0h-12.0zM743.5 135.9l6.0 10.0h-12.0zM744.7 149.0l6.0 10.0h-12.0zM744.6 138.2l6.0 10.0h-12.0zM745.0 142.6l6.0 10.0h-12.0zM746.0 140.5l6.0 10.0h-12.0zM745.8 147.8l6.0 10.0h-12.0zM746.8 139.8l6.0 10.0h-12.0zM746.9 146.4l6.0 10.0h-12.0zM747.8 153.4l6.0 10.0h-12.0zM747.9 149.3l6.0 10.0h-12.0zM748.5 152.0l6.0 10.0h-12.0zM748.6 142.0l6.0 10.0h-12.0zM749.1 155.9l6.0 10.0h-12.0zM749.8 149.1l6.0 10.0h-12.0zM749.6 146.2l6.0 10.0h-12.0zM750.0 151.2l6.0 10.0h-12.0zM750.6 153.1l6.0 10.0h-12.0zM751.3 147.0l6.0 10.0h-12.0zM752.0 150.2l6.0 10.0h-12.0zM752.3 145.6l6.0 10.0h-12.0zM752.6 161.0l6.0 10.0h-12.0zM753.3 147.7l6.0 10.0h-12.0zM753.7 155.6l6.0 10.0h-12.0zM754.5 150.7l6.0 10.0h-12.0zM754.9 156.4l6.0 10.0h-12.0zM754.9 162.9l6.0 10.0h-12.0zM755.4 150.6l6.0 10.0h-12.0zM756.1 161.9l6.0 10.0h-12.0zM756.6 156.1l6.0 10.0h-12.0zM757.4 167.1l6.0 10.0h-12.0zM758.0 160.5l6.0 10.0h-12.0zM757.8 165.4l6.0 10.0h-12.0zM757.7 154.0l6.0 10.0h-12.0zM758.2 156.4l6.0 10.0h-12.0zM758.6 161.4l6.0 10.0h-12.0zM759.8 161.3l6.0 10.0h-12.0zM760.0 156.8l6.0 10.0h-12.0zM760.2 174.3l6.0 10.0h-12.0zM760.5 167.4l6.0 10.0h-12.0zM761.3 172.1l6.0 10.0h-12.0zM761.7 165.9l6.0 10.0h-12.0zM762.3 174.3l6.0 10.0h-12.0zM762.8 177.9l6.0 10.0h-12.0zM762.6 178.0l6.0 10.0h-12.0zM763.4 174.5l6.0 10.0h-12.0zM763.8 178.9l6.0 10.0h-12.0zM764.0 173.7l6.0 10.0h-12.0zM764.2 170.4l6.0 10.0h-12.0zM764.9 175.9l6.0 10.0h-12.0zM765.8 171.5l6.0 10.0h-12.0zM766.1 172.1l6.0 10.0h-12.0zM766.3 182.7l6.0 10.0h-12.0zM766.8 168.9l6.0 10.0h-12.0zM767.3 181.3l6.0 10.0h-12.0zM767.2 181.4l6.0 10.0h-12.0zM768.0 181.0l6.0 10.0h-12.0zM768.2 171.4l6.0 10.0h-12.0zM768.6 176.6l6.0 10.0h-12.0zM769.4 171.2l6.0 10.0h-12.0zM770.0 179.1l6.0 10.0h-12.0zM770.3 182.3l6.0 10.0h-12.0zM771.0 176.3l6.0 10.0h-12.0zM771.4 179.2l6.0 10.0h-12.0zM771.8 176.1l6.0 10.0h-12.0zM772.5 182.7l6.0 10.0h-12.0zM773.0 179.6l6.0 10.0h-12.0zM772.9 189.1l6.0 10.0h-12.0zM772.7 181.3l6.0 10.0h-12.0zM773.7 194.1l6.0 10.0h-12.0zM773.8 181.2l6.0 10.0h-12.0zM774.4 196.2l6.0 10.0h-12.0zM774.6 190.6l6.0 10.0h-12.0zM775.4 191.4l6.0 10.0h-12.0zM775.7 191.7l6.0 10.0h-12.0zM776.9 196.5l6.0 10.0h-12.0zM776.6 190.4l6.0 10.0h-12.0zM777.1 184.4l6.0 10.0h-12.0zM777.8 195.0l6.0 10.0h-12.0zM778.0 195.3l6.0 10.0h-12.0zM778.4 191.2l6.0 10.0h-12.0zM778.7 195.5l6.0 10.0h-12.0zM779.6 194.7l6.0 10.0h-12.0zM779.5 197.3l6.0 10.0h-12.0zM780.4 197.3l6.0 10.0h-12.0zM781.1 203.8l6.0 10.0h-12.0zM780.7 195.8l6.0 10.0h-12.0zM782.0 201.1l6.0 10.0h-12.0zM781.8 201.7l6.0 10.0h-12.0zM783.0 196.4l6.0 10.0h-12.0zM783.4 192.1l6.0 10.0h-12.0zM784.0 199.2l6.0 10.0h-12.0zM783.7 206.2l6.0 10.0h-12.0zM784.1 207.9l6.0 10.0h-12.0zM784.8 206.0l6.0 10.0h-12.0zM785.0 210.3l6.0 10.0h-12.0zM785.1 208.4l6.0 10.0h-12.0zM786.2 197.7l6.0 10.0h-12.0zM786.8 201.7l6.0 10.0h-12.0zM787.0 209.2l6.0 10.0h-12.0zM787.2 199.7l6.0 10.0h-12.0zM787.6 196.3l6.0 10.0h-12.0zM788.1 208.5l6.0 10.0h-12.0zM788.5 200.1l6.0 10.0h-12.0zM789.3 210.2l6.0 10.0h-12.0zM789.8 205.8l6.0 10.0h-12.0zM790.4 209.9l6.0 10.0h-12.0zM790.2 203.9l6.0 10.0h-12.0zM790.6 199.6l6.0 10.0h-12.0zM791.8 212.1l6.0 10.0h-12.0zM792.8 202.3l6.0 10.0h-12.0zM792.7 206.4l6.0 10.0h-12.0zM793.8 209.8l6.0 10.0h-12.0zM794.4 203.4l6.0 10.0h-12.0zM795.5 205.7l6.0 10.0h-12.0zM795.6 214.2l6.0 10.0h-12.0zM796.2 206.2l6.0 10.0h-12.0zM796.7 209.3l6.0 10.0h-12.0zM797.0 208.7l6.0 10.0h-12.0zM797.8 212.5l6.0 10.0h-12.0zM798.3 212.5l6.0 10.0h-12.0zM799.2 207.7l6.0 10.0h-12.0zM799.6 214.3l6.0 10.0h-12.0zM800.5 208.0l6.0 10.0h-12.0zM800.6 217.7l6.0 10.0h-12.0zM802.1 211.5l6.0 10.0h-12.0zM802.2 219.1l6.0 10.0h-12.0zM803.2 216.4l6.0 10.0h-12.0zM803.9 212.1l6.0 10.0h-12.0zM804.4 210.6l6.0 10.0h-12.0zM805.6 214.3l6.0 10.0h-12.0zM806.3 214.4l6.0 10.0h-12.0zM806.5 215.7l6.0 10.0h-12.0zM807.9 214.5l6.0 10.0h-12.0zM808.2 213.6l6.0 10.0h-12.0zM809.1 214.7l6.0 10.0h-12.0zM809.9 215.0l6.0 10.0h-12.0zM810.4 219.5l6.0 10.0h-12.0zM811.0 222.7l6.0 10.0h-12.0zM811.4 221.0l6.0 10.0h-12.0zM812.6 218.5l6.0 10.0h-12.0zM812.6 218.5l6.0 10.0h-12.0zM813.8 219.3l6.0 10.0h-12.0zM815.0 217.9l6.0 10.0h-12.0zM815.2 222.5l6.0 10.0h-12.0zM815.7 220.1l6.0 10.0h-12.0zM816.1 226.0l6.0 10.0h-12.0zM816.8 220.8l6.0 10.0h-12.0zM817.8 226.2l6.0 10.0h-12.0zM818.9 223.8l6.0 10.0h-12.0zM819.0 218.1l6.0 10.0h-12.0zM820.4 218.5l6.0 10.0h-12.0zM820.4 222.3l6.0 10.0h-12.0zM821.2 226.4l6.0 10.0h-12.0zM821.3 229.6l6.0 10.0h-12.0zM822.4 218.6l6.0 10.0h-12.0zM823.1 225.0l6.0 10.0h-12.0zM823.4 225.2l6.0 10.0h-12.0zM823.8 228.3l6.0 10.0h-12.0zM824.6 232.6l6.0 10.0h-12.0zM825.5 233.3l6.0 10.0h-12.0zM825.4 231.4l6.0 10.0h-12.0zM826.1 229.9l6.0 10.0h-12.0zM827.5 221.7l6.0 10.0h-12.0zM827.5 226.6l6.0 10.0h-12.0zM828.2 224.3l6.0 10.0h-12.0zM829.0 224.5l6.0 10.0h-12.0zM828.9 223.8l6.0 10.0h-12.0zM829.4 232.7l6.0 10.0h-12.0zM829.6 224.6l6.0 10.0h-12.0zM830.6 231.6l6.0 10.0h-12.0zM831.2 226.4l6.0 10.0h-12.0zM831.8 233.8l6.0 10.0h-12.0zM832.3 224.9l6.0 10.0h-12.0zM832.5 223.6l6.0 10.0h-12.0zM833.4 238.1l6.0 10.0h-12.0zM833.9 224.2l6.0 10.0h-12.0zM833.9 232.4l6.0 10.0h-12.0zM834.5 226.1l6.0 10.0h-12.0zM835.3 229.2l6.0 10.0h-12.0zM835.5 226.5l6.0 10.0h-12.0zM836.1 226.7l6.0 10.0h-12.0zM836.1 233.2l6.0 10.0h-12.0zM836.8 237.9l6.0 10.0h-12.0zM837.2 231.9l6.0 10.0h-12.0zM837.6 228.7l6.0 10.0h-12.0zM838.5 234.9l6.0 10.0h-12.0zM838.5 240.1l6.0 10.0h-12.0zM838.6 240.3l6.0 10.0h-12.0zM839.2 242.4l6.0 10.0h-12.0zM840.0 232.4l6.0 10.0h-12.0zM840.6 240.5l6.0 10.0h-12.0zM841.5 232.6l6.0 10.0h-12.0zM841.0 228.1l6.0 10.0h-12.0zM841.8 238.2l6.0 10.0h-12.0zM842.2 228.2l6.0 10.0h-12.0zM842.5 226.1l6.0 10.0h-12.0zM842.6 230.8l6.0 10.0h-12.0zM844.0 236.6l6.0 10.0h-12.0zM844.3 226.6l6.0 10.0h-12.0zM844.4 227.2l6.0 10.0h-12.0zM844.8 227.8l6.0 10.0h-12.0zM845.9 231.4l6.0 10.0h-12.0zM846.0 236.7l6.0 10.0h-12.0zM846.9 241.5l6.0 10.0h-12.0zM847.1 234.3l6.0 10.0h-12.0zM847.9 232.6l6.0 10.0h-12.0zM847.8 238.1l6.0 10.0h-12.0zM848.3 232.3l6.0 10.0h-12.0zM848.9 234.0l6.0 10.0h-12.0zM848.9 233.3l6.0 10.0h-12.0zM849.5 227.4l6.0 10.0h-12.0zM850.8 227.7l6.0 10.0h-12.0zM851.0 235.0l6.0 10.0h-12.0zM851.4 230.2l6.0 10.0h-12.0zM851.6 232.3l6.0 10.0h-12.0zM852.3 233.9l6.0 10.0h-12.0zM852.7 237.5l6.0 10.0h-12.0zM853.5 227.4l6.0 10.0h-12.0zM853.9 240.1l6.0 10.0h-12.0zM854.0 235.1l6.0 10.0h-12.0zM856.0 232.1l6.0 10.0h-12.0zM856.1 232.1l6.0 10.0h-12.0zM856.3 235.0l6.0 10.0h-12.0zM857.1 231.5l6.0 10.0h-12.0zM858.0 234.0l6.0 10.0h-12.0zM858.8 229.0l6.0 10.0h-12.0zM859.1 231.4l6.0 10.0h-12.0zM859.8 237.2l6.0 10.0h-12.0zM860.4 237.9l6.0 10.0h-12.0zM861.4 232.2l6.0 10.0h-12.0zM862.7 230.5l6.0 10.0h-12.0zM863.5 237.7l6.0 10.0h-12.0zM863.8 233.0l6.0 10.0h-12.0zM865.3 237.3l6.0 10.0h-12.0zM865.6 231.2l6.0 10.0h-12.0zM866.8 231.4l6.0 10.0h-12.0zM867.6 235.6l6.0 10.0h-12.0zM868.9 236.4l6.0 10.0h-12.0zM869.0 238.5l6.0 10.0h-12.0zM871.3 236.2l6.0 10.0h-12.0zM871.5 237.3l6.0 10.0h-12.0zM873.4 237.0l6.0 10.0h-12.0zM875.5 238.3l6.0 10.0h-12.0zM876.1 237.7l6.0 10.0h-12.0zM878.4 237.7l6.0 10.0h-12.0zM880.9 237.3l6.0 10.0h-12.0zM883.4 237.4l6.0 10.0h-12.0zM886.3 240.4l6.0 10.0h-12.0zM888.6 239.8l6.0 10.0h-12.0zM892.3 242.6l6.0 10.0h-12.0zM895.0 242.5l6.0 10.0h-12.0zM898.1 244.5l6.0 10.0h-12.0zM902.0 246.3l6.0 10.0h-12.0zM906.4 247.6l6.0 10.0h-12.0zM910.4 249.2l6.0 10.0h-12.0zM922.6 253.5l6.0 10.0h-12.0zM931.5 256.9l6.0 10.0h-12.0zM959.5 266.9l6.0 10.0h-12.0zM965.0 271.3l6.0 10.0h-12.0zM969.6 274.8l6.0 10.0h-12.0zM977.4 278.1l6.0 10.0h-12.0zM983.0 279.3l6.0 10.0h-12.0zM988.0 281.3l6.0 10.0h-12.0zM989.3 283.1l6.0 10.0h-12.0zM990.4 285.4l6.0 10.0h-12.0zM991.0 286.2l6.0 10.0h-12.0zM992.4 288.3l6.0 10.0h-12.0zM993.4 287.5l6.0 10.0h-12.0zM994.2 287.5l6.0 10.0h-12.0zM995.3 286.2l6.0 10.0h-12.0zM996.2 287.1l6.0 10.0h-12.0zM996.6 287.7l6.0 10.0h-12.0zM997.3 287.9l6.0 10.0h-12.0zM997.8 291.6l6.0 10.0h-12.0zM999.0 290.6l6.0 10.0h-12.0zM999.6 294.8l6.0 10.0h-12.0zM1000.4 293.3l6.0 10.0h-12.0zM1001.0 297.2l6.0 10.0h-12.0zM1001.3 295.0l6.0 10.0h-12.0zM1002.2 291.6l6.0 10.0h-12.0zM1003.2 294.9l6.0 10.0h-12.0zM1003.3 290.2l6.0 10.0h-12.0zM1004.3 293.5l6.0 10.0h-12.0zM1004.7 294.3l6.0 10.0h-12.0zM1005.6 296.1l6.0 10.0h-12.0zM1006.5 299.9l6.0 10.0h-12.0zM1006.5 295.9l6.0 10.0h-12.0zM1006.7 298.8l6.0 10.0h-12.0zM1007.1 294.5l6.0 10.0h-12.0zM1008.3 291.9l6.0 10.0h-12.0zM1008.7 297.7l6.0 10.0h-12.0zM1009.6 295.7l6.0 10.0h-12.0zM1009.7 302.6l6.0 10.0h-12.0zM1010.8 301.3l6.0 10.0h-12.0zM1010.6 301.4l6.0 10.0h-12.0zM1011.2 295.2l6.0 10.0h-12.0zM1012.0 300.0l6.0 10.0h-12.0zM1012.1 302.0l6.0 10.0h-12.0zM1013.1 303.8l6.0 10.0h-12.0zM1013.9 301.7l6.0 10.0h-12.0zM1013.9 304.9l6.0 10.0h-12.0zM1014.7 297.6l6.0 10.0h-12.0zM1015.4 302.7l6.0 10.0h-12.0zM1015.3 297.6l6.0 10.0h-12.0zM1015.5 301.0l6.0 10.0h-12.0zM1016.3 298.4l6.0 10.0h-12.0zM1017.3 297.1l6.0 10.0h-12.0zM1018.0 298.8l6.0 10.0h-12.0zM1018.3 299.1l6.0 10.0h-12.0zM1019.0 305.7l6.0 10.0h-12.0zM1019.2 305.7l6.0 10.0h-12.0zM1020.4 303.2l6.0 10.0h-12.0zM1020.5 304.7l6.0 10.0h-12.0zM1021.0 304.1l6.0 10.0h-12.0zM1021.9 305.4l6.0 10.0h-12.0zM1021.8 298.1l6.0 10.0h-12.0zM1023.4 301.7l6.0 10.0h-12.0zM1023.8 300.6l6.0 10.0h-12.0zM1024.0 302.2l6.0 10.0h-12.0zM1024.7 308.1l6.0 10.0h-12.0zM1025.0 304.5l6.0 10.0h-12.0zM1025.3 301.4l6.0 10.0h-12.0zM1026.9 300.6l6.0 10.0h-12.0zM1027.4 306.1l6.0 10.0h-12.0zM1027.1 308.7l6.0 10.0h-12.0zM1027.6 305.6l6.0 10.0h-12.0zM1028.1 309.8l6.0 10.0h-12.0zM1029.3 309.0l6.0 10.0h-12.0zM1029.6 307.2l6.0 10.0h-12.0zM1030.1 301.5l6.0 10.0h-12.0zM1031.1 310.5l6.0 10.0h-12.0zM1032.2 309.7l6.0 10.0h-12.0zM1032.8 306.8l6.0 10.0h-12.0zM1032.6 307.0l6.0 10.0h-12.0zM1033.7 307.4l6.0 10.0h-12.0zM1034.4 307.3l6.0 10.0h-12.0zM1034.7 309.3l6.0 10.0h-12.0zM1035.9 307.8l6.0 10.0h-12.0zM1036.1 308.0l6.0 10.0h-12.0zM1037.1 312.3l6.0 10.0h-12.0zM1038.1 305.4l6.0 10.0h-12.0zM1038.3 307.2l6.0 10.0h-12.0zM1039.7 312.5l6.0 10.0h-12.0zM1040.5 312.8l6.0 10.0h-12.0zM1040.9 312.1l6.0 10.0h-12.0zM1041.9 305.1l6.0 10.0h-12.0zM1042.0 310.1l6.0 10.0h-12.0zM1042.7 310.4l6.0 10.0h-12.0zM1043.6 313.4l6.0 10.0h-12.0zM1043.6 309.9l6.0 10.0h-12.0zM1045.5 305.9l6.0 10.0h-12.0zM1045.1 313.3l6.0 10.0h-12.0zM1046.5 306.1l6.0 10.0h-12.0zM1046.5 313.3l6.0 10.0h-12.0zM1047.7 310.7l6.0 10.0h-12.0zM1048.1 312.9l6.0 10.0h-12.0zM1049.3 306.5l6.0 10.0h-12.0zM1049.1 313.5l6.0 10.0h-12.0zM1050.5 314.0l6.0 10.0h-12.0zM1050.9 309.8l6.0 10.0h-12.0zM1051.3 307.1l6.0 10.0h-12.0zM1052.3 309.4l6.0 10.0h-12.0zM1053.1 311.9l6.0 10.0h-12.0zM1053.3 313.4l6.0 10.0h-12.0zM1054.0 309.6l6.0 10.0h-12.0zM1055.4 309.2l6.0 10.0h-12.0zM1055.1 310.0l6.0 10.0h-12.0zM1056.0 314.9l6.0 10.0h-12.0zM1056.8 310.2l6.0 10.0h-12.0zM1057.7 310.5l6.0 10.0h-12.0zM1058.0 310.6l6.0 10.0h-12.0zM1058.9 310.1l6.0 10.0h-12.0zM1059.2 311.3l6.0 10.0h-12.0zM1059.8 315.3l6.0 10.0h-12.0zM1060.7 315.9l6.0 10.0h-12.0zM1061.5 309.8l6.0 10.0h-12.0zM1062.3 311.4l6.0 10.0h-12.0zM1062.2 313.0l6.0 10.0h-12.0zM1064.0 312.9l6.0 10.0h-12.0zM1063.9 317.7l6.0 10.0h-12.0zM1065.0 313.3l6.0 10.0h-12.0zM1065.1 317.0l6.0 10.0h-12.0zM1066.3 313.2l6.0 10.0h-12.0zM1067.3 313.8l6.0 10.0h-12.0zM1067.3 315.7l6.0 10.0h-12.0zM1068.2 314.9l6.0 10.0h-12.0zM1069.3 311.2l6.0 10.0h-12.0zM1069.5 314.4l6.0 10.0h-12.0zM1070.1 319.0l6.0 10.0h-12.0zM1070.6 313.3l6.0 10.0h-12.0zM1072.4 319.7l6.0 10.0h-12.0zM1072.9 314.8l6.0 10.0h-12.0zM1073.4 313.3l6.0 10.0h-12.0zM1074.2 320.0l6.0 10.0h-12.0zM1074.2 313.6l6.0 10.0h-12.0zM1075.7 319.8l6.0 10.0h-12.0zM1076.2 320.4l6.0 10.0h-12.0zM1077.0 316.1l6.0 10.0h-12.0zM1077.1 315.5l6.0 10.0h-12.0zM1078.9 314.1l6.0 10.0h-12.0zM1078.7 316.4l6.0 10.0h-12.0zM1079.5 316.3l6.0 10.0h-12.0zM1080.2 315.0l6.0 10.0h-12.0zM1081.5 318.4l6.0 10.0h-12.0zM1082.6 320.3l6.0 10.0h-12.0zM1083.0 321.8l6.0 10.0h-12.0zM1083.6 316.7l6.0 10.0h-12.0zM1084.1 317.5l6.0 10.0h-12.0zM1085.8 322.1l6.0 10.0h-12.0zM1086.5 317.0l6.0 10.0h-12.0zM1086.8 320.0l6.0 10.0h-12.0zM1087.8 321.8l6.0 10.0h-12.0zM1089.5 319.7l6.0 10.0h-12.0zM1090.1 322.5l6.0 10.0h-12.0zM1090.5 318.3l6.0 10.0h-12.0zM1091.9 323.7l6.0 10.0h-12.0zM1092.0 322.5l6.0 10.0h-12.0zM1093.4 318.3l6.0 10.0h-12.0zM1094.2 319.4l6.0 10.0h-12.0zM1095.7 319.9l6.0 10.0h-12.0zM1096.0 320.2l6.0 10.0h-12.0zM1097.8 322.1l6.0 10.0h-12.0zM1098.7 322.2l6.0 10.0h-12.0zM1099.2 319.9l6.0 10.0h-12.0zM1100.3 320.4l6.0 10.0h-12.0zM1101.3 323.8l6.0 10.0h-12.0zM1102.9 323.5l6.0 10.0h-12.0zM1104.1 323.2l6.0 10.0h-12.0zM1105.4 326.0l6.0 10.0h-12.0zM1008.0 302.8l6.0 10.0h-12.0zM1012.0 303.8l6.0 10.0h-12.0zM1113.6 329.3l6.0 10.0h-12.0zM1119.2 330.5l6.0 10.0h-12.0zM1098.0 332.5l6.0 10.0h-12.0zM1145.0 345.0l6.0 10.0h-12.0zM1148.3 347.2l6.0 10.0h-12.0zM1176.3 351.7l6.0 10.0h-12.0zM1182.0 352.8l6.0 10.0h-12.0zM1168.9 342.0l6.0 10.0h-12.0zM1162.7 343.4l6.0 10.0h-12.0zM1167.8 347.5l6.0 10.0h-12.0zM1163.7 345.9l6.0 10.0h-12.0zM1168.0 343.9l6.0 10.0h-12.0zM1167.1 350.2l6.0 10.0h-12.0zM1164.0 345.5l6.0 10.0h-12.0zM1163.9 346.7l6.0 10.0h-12.0zM1162.8 349.1l6.0 10.0h-12.0zM1163.7 344.6l6.0 10.0h-12.0zM1167.0 346.7l6.0 10.0h-12.0zM1164.3 352.6l6.0 10.0h-12.0zM1164.1 345.6l6.0 10.0h-12.0zM1168.1 354.0l6.0 10.0h-12.0zM1164.0 337.1l6.0 10.0h-12.0zM1164.0 340.3l6.0 10.0h-12.0zM1162.0 345.3l6.0 10.0h-12.0zM1166.0 345.3l6.0 10.0h-12.0zM1191.6 358.4l6.0 10.0h-12.0zM1190.4 360.6l6.0 10.0h-12.0zM1186.3 360.5l6.0 10.0h-12.0zM1193.4 360.1l6.0 10.0h-12.0zM1190.4 358.7l6.0 10.0h-12.0zM1190.2 357.3l6.0 10.0h-12.0zM1191.5 359.3l6.0 10.0h-12.0zM1193.8 358.1l6.0 10.0h-12.0zM1190.8 355.9l6.0 10.0h-12.0zM1228.0 377.5l6.0 10.0h-12.0zM1235.4 379.1l6.0 10.0h-12.0zM1238.0 382.1l6.0 10.0h-12.0zM1250.0 372.6l6.0 10.0h-12.0zM1250.0 381.6l6.0 10.0h-12.0zM1250.0 389.7l6.0 10.0h-12.0zM1257.4 385.6l6.0 10.0h-12.0zM1257.4 391.3l6.0 10.0h-12.0zM1244.0 380.1l6.0 10.0h-12.0zM1246.0 386.1l6.0 10.0h-12.0zM1241.0 378.1l6.0 10.0h-12.0zM1253.0 386.1l6.0 10.0h-12.0zM1247.0 377.1l6.0 10.0h-12.0zM1243.0 384.1l6.0 10.0h-12.0zM1254.0 380.1l6.0 10.0h-12.0zM1269.3 388.1l6.0 10.0h-12.0zM1274.5 394.6l6.0 10.0h-12.0zM1279.4 388.1l6.0 10.0h-12.0zM1283.5 400.3l6.0 10.0h-12.0z" fill="#ff00ff"/>
<path d="M689.1 16.7V73.1M727.7 55.1V89.8M771.4 118V153.1M793.9 149.3V184.5M803 155.9V190.8M813.9 165.6V200.2M855.8 127.4V206.4M875.5 184.4V219.3M1001.6 187.2V266.3M1088.5 212.9V291.6M1152.7 228.7V307.0M1182 235.2V313.6M1201.8 247.7V326.1" stroke="#000" stroke-width="1.6" fill="none"/>
<path d="M689.1 90.1l-5.4 -18h10.8zM727.7 103.1l-4.5 -14.3h9.0zM771.4 166.4l-4.5 -14.3h9.0zM793.9 197.8l-4.5 -14.3h9.0zM803 204.10000000000002l-4.5 -14.3h9.0zM813.9 213.5l-4.5 -14.3h9.0zM855.8 223.4l-5.4 -18h10.8zM875.5 232.60000000000002l-4.5 -14.3h9.0zM1001.6 283.3l-5.4 -18h10.8zM1088.5 308.6l-5.4 -18h10.8zM1152.7 324.0l-5.4 -18h10.8zM1182 330.6l-5.4 -18h10.8zM1201.8 343.1l-5.4 -18h10.8z" fill="#000"/>
<path d="M100.4 427.5v-4.2M100.4 7.5v4.2M117.3 427.5v-8.5M117.3 7.5v8.5M228.4 427.5v-4.2M228.4 7.5v4.2M293.5 427.5v-4.2M293.5 7.5v4.2M339.6 427.5v-4.2M339.6 7.5v4.2M375.4 427.5v-4.2M375.4 7.5v4.2M404.6 427.5v-4.2M404.6 7.5v4.2M429.3 427.5v-4.2M429.3 7.5v4.2M450.7 427.5v-4.2M450.7 7.5v4.2M469.6 427.5v-4.2M469.6 7.5v4.2M486.5 427.5v-8.5M486.5 7.5v8.5M597.6 427.5v-4.2M597.6 7.5v4.2M662.7 427.5v-4.2M662.7 7.5v4.2M708.8 427.5v-4.2M708.8 7.5v4.2M744.6 427.5v-4.2M744.6 7.5v4.2M773.8 427.5v-4.2M773.8 7.5v4.2M798.5 427.5v-4.2M798.5 7.5v4.2M819.9 427.5v-4.2M819.9 7.5v4.2M838.8 427.5v-4.2M838.8 7.5v4.2M855.7 427.5v-8.5M855.7 7.5v8.5M966.8 427.5v-4.2M966.8 7.5v4.2M1031.9 427.5v-4.2M1031.9 7.5v4.2M1078.0 427.5v-4.2M1078.0 7.5v4.2M1113.8 427.5v-4.2M1113.8 7.5v4.2M1143.0 427.5v-4.2M1143.0 7.5v4.2M1167.7 427.5v-4.2M1167.7 7.5v4.2M1189.1 427.5v-4.2M1189.1 7.5v4.2M1208.0 427.5v-4.2M1208.0 7.5v4.2M1224.9 427.5v-8.5M1224.9 7.5v8.5M82.0 23.3h4.2M1300.4 23.3h-4.2M82.0 54.9h8.5M1300.4 54.9h-8.5M82.0 86.4h4.2M1300.4 86.4h-4.2M82.0 118.0h4.2M1300.4 118.0h-4.2M82.0 149.6h4.2M1300.4 149.6h-4.2M82.0 181.2h4.2M1300.4 181.2h-4.2M82.0 212.8h8.5M1300.4 212.8h-8.5M82.0 244.3h4.2M1300.4 244.3h-4.2M82.0 275.9h4.2M1300.4 275.9h-4.2M82.0 307.5h4.2M1300.4 307.5h-4.2M82.0 339.1h4.2M1300.4 339.1h-4.2M82.0 370.7h8.5M1300.4 370.7h-8.5M82.0 402.2h4.2M1300.4 402.2h-4.2" stroke="#000" stroke-width="1.3" fill="none"/>
<rect x="82.0" y="7.5" width="1218.4" height="420.0" fill="none" stroke="#000" stroke-width="1.6"/>
<rect x="1136.8" y="16" width="151.6" height="64.1" fill="#fff" stroke="#000" stroke-width="1.3"/>
<g class="ga">
<text class="s" x="1153.6" y="41" font-size="19.6" xml:space="preserve">AAVSO  B</text>
<text class="s" x="1156.2" y="66.2" font-size="19.6" xml:space="preserve">AAVSO I<tspan font-size="15.2" dx="-0.6" dy="6.4">C</tspan></text>
<path d="M1266.6 28.3l5.9 9.5h-11.8z" fill="#0000ff"/>
<path d="M1266.6 55.2l6.1 9.7h-12.2z" fill="#ff00ff"/>
<path transform="translate(114.43,455.0) scale(0.02183,-0.02450)" d="M354 0H264V505H102V568C200 572 270 620 296 709H354Z" fill="#000"/>
<path transform="translate(477.66,455.0) scale(0.02183,-0.02450)" d="M354 0H264V505H102V568C200 572 270 620 296 709H354Z" fill="#000"/><text class="s" font-size="24.5" transform="translate(490.30,455.0) scale(0.891,1)">0</text>
<path transform="translate(840.59,455.0) scale(0.02183,-0.02450)" d="M354 0H264V505H102V568C200 572 270 620 296 709H354Z" fill="#000"/><text class="s" font-size="24.5" transform="translate(853.23,455.0) scale(0.891,1)">00</text>
<path transform="translate(1204.02,455.0) scale(0.02183,-0.02450)" d="M354 0H264V505H102V568C200 572 270 620 296 709H354Z" fill="#000"/><text class="s" font-size="24.5" transform="translate(1216.66,455.0) scale(0.891,1)">000</text>
<text class="s" font-size="24.5" transform="translate(57.56,62.9) scale(0.891,1)">5</text>
<path transform="translate(44.92,221.0) scale(0.02183,-0.02450)" d="M354 0H264V505H102V568C200 572 270 620 296 709H354Z" fill="#000"/><text class="s" font-size="24.5" transform="translate(57.56,221.0) scale(0.891,1)">0</text>
<path transform="translate(44.92,379.0) scale(0.02183,-0.02450)" d="M354 0H264V505H102V568C200 572 270 620 296 709H354Z" fill="#000"/><text class="s" font-size="24.5" transform="translate(57.56,379.0) scale(0.891,1)">5</text>
<g class="r">
<text transform="translate(454.6,486.4) scale(0.983,1)" font-size="31" xml:space="preserve">JD - 2 456 518.4  (days from eruption)</text>
<text transform="translate(24.5,215.8) rotate(-90) scale(0.977,1)" font-size="31" text-anchor="middle">Magnitude</text>
<text transform="translate(891.0,80.6) scale(0.964,1)" font-size="40.4">V339 Del</text>
</g>
<g class="s">
<text transform="translate(160.3,158.7) scale(0.983,1)" font-size="28.2" >Fireball phase</text>
<text transform="translate(439.9,206.2) scale(0.987,1)" font-size="28.2" >FeII-curtain phase</text>
<text transform="translate(799.9,301.3) scale(0.993,1)" font-size="28.2" >SSS-phase</text>
<text transform="translate(731.9,348.6) scale(0.991,1)" font-size="28.2" >Dust emission</text>
<text transform="translate(783.5,393.0) scale(0.957,1)" font-size="28.2" letter-spacing="8.67">Nebular phase</text>
</g>
</g>
</svg>
</body></html>
